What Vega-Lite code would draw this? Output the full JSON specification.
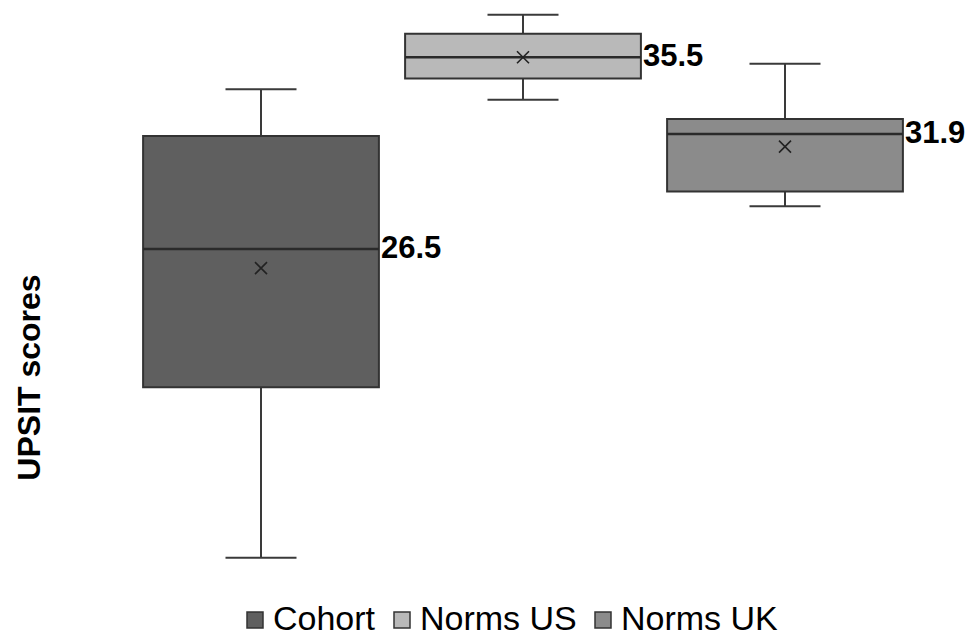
{
  "$schema": "https://vega.github.io/schema/vega-lite/v6.json",
  "width": 786,
  "height": 575,
  "autosize": {"type": "none"},
  "padding": {"left": 130, "top": 4, "right": 60, "bottom": 57},
  "background": "white",
  "config": {
    "view": {"stroke": null},
    "font": "Liberation Sans"
  },
  "data": {
    "values": [
      {"group": "Cohort", "lower": 12.0, "q1": 20.0, "median": 26.5, "q3": 31.8, "upper": 34.0, "mean": 25.6},
      {"group": "Norms US", "lower": 33.5, "q1": 34.5, "median": 35.5, "q3": 36.6, "upper": 37.5, "mean": 35.5},
      {"group": "Norms UK", "lower": 28.5, "q1": 29.2, "median": 31.9, "q3": 32.6, "upper": 35.2, "mean": 31.3}
    ]
  },
  "encoding": {
    "x": {
      "field": "group",
      "type": "nominal",
      "sort": ["Cohort", "Norms US", "Norms UK"],
      "scale": {"paddingInner": 0.1, "paddingOuter": 0.05},
      "axis": null
    }
  },
  "layer": [
    {
      "mark": {"type": "rule", "strokeWidth": 2, "color": "#3a3a3a"},
      "encoding": {
        "y": {
          "field": "lower",
          "type": "quantitative",
          "scale": {"domain": [11, 38], "nice": false, "zero": false},
          "axis": {
            "title": "UPSIT scores",
            "labels": false,
            "ticks": false,
            "domain": false,
            "grid": false,
            "titleFontSize": 32,
            "titleFontWeight": "bold",
            "titleColor": "#000000",
            "titleFont": "Liberation Sans",
            "titleX": -101,
            "titleY": 373,
            "titleAngle": -90,
            "titleAlign": "center",
            "titleBaseline": "middle"
          }
        },
        "y2": {"field": "upper"}
      }
    },
    {
      "mark": {"type": "tick", "size": 71, "thickness": 2, "color": "#3a3a3a", "opacity": 1},
      "encoding": {
        "y": {"field": "lower", "type": "quantitative"}
      }
    },
    {
      "mark": {"type": "tick", "size": 71, "thickness": 2, "color": "#3a3a3a", "opacity": 1},
      "encoding": {
        "y": {"field": "upper", "type": "quantitative"}
      }
    },
    {
      "mark": {"type": "bar", "strokeWidth": 2, "stroke": "#333333"},
      "encoding": {
        "y": {"field": "q1", "type": "quantitative"},
        "y2": {"field": "q3"},
        "fill": {
          "field": "group",
          "type": "nominal",
          "sort": ["Cohort", "Norms US", "Norms UK"],
          "scale": {"domain": ["Cohort", "Norms US", "Norms UK"], "range": ["#5f5f5f", "#b9b9b9", "#8b8b8b"]},
          "legend": {
            "title": null,
            "orient": "none",
            "direction": "horizontal",
            "legendX": 108,
            "legendY": 599,
            "symbolType": "square",
            "symbolSize": 256,
            "symbolStrokeWidth": 1.5,
            "symbolStrokeColor": "#333333",
            "labelFontSize": 34,
            "labelFont": "Liberation Sans",
            "labelColor": "#000000",
            "labelOffset": 1,
            "columnPadding": 9
          }
        }
      }
    },
    {
      "mark": {"type": "tick", "size": 236, "thickness": 2.5, "color": "#2a2a2a", "opacity": 1},
      "encoding": {
        "y": {"field": "median", "type": "quantitative"}
      }
    },
    {
      "mark": {"type": "point", "shape": "M-1,-1L1,1M-1,1L1,-1", "filled": false, "size": 144, "strokeWidth": 1.6, "opacity": 1, "color": "#222222"},
      "encoding": {
        "y": {"field": "mean", "type": "quantitative"}
      }
    },
    {
      "mark": {"type": "text", "align": "left", "baseline": "middle", "dx": 120, "fontSize": 31, "fontWeight": "bold", "font": "Liberation Sans", "color": "#000000"},
      "encoding": {
        "y": {"field": "median", "type": "quantitative"},
        "text": {"field": "median", "type": "quantitative", "format": ".1f"}
      }
    }
  ]
}
